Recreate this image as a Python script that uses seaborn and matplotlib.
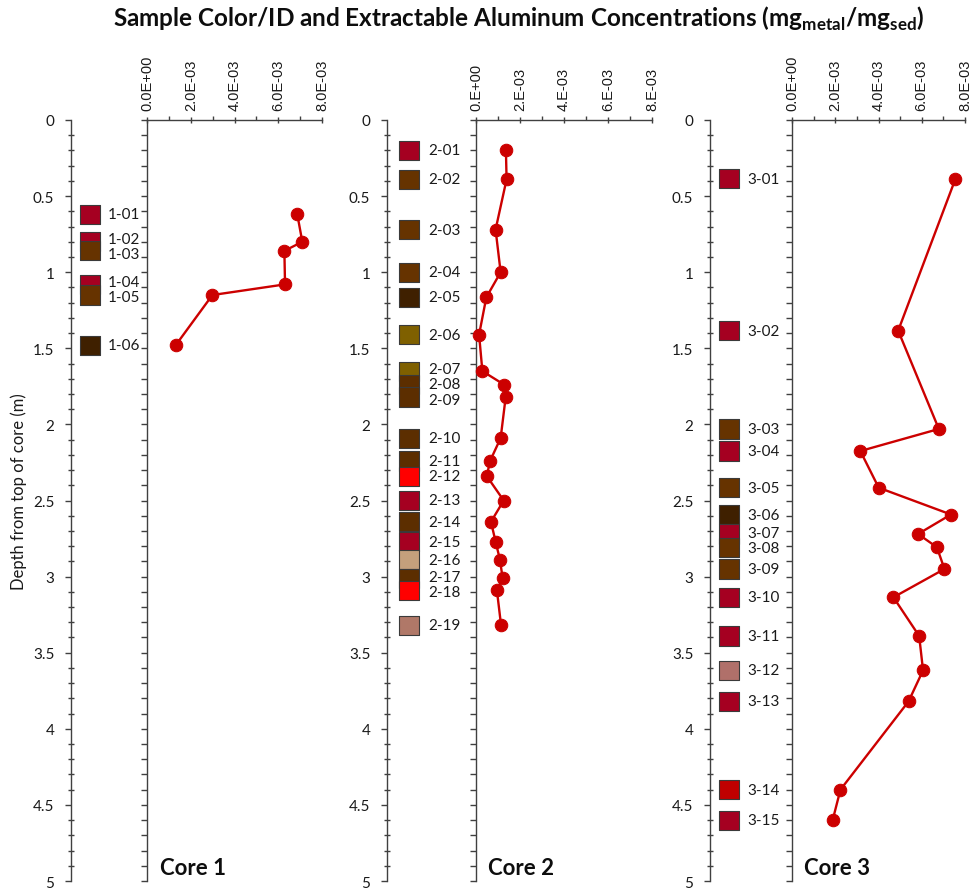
import numpy as np
import pandas as pd
import matplotlib
matplotlib.use("Agg")
import matplotlib.pyplot as plt
import seaborn as sns
from matplotlib.ticker import FixedLocator, FixedFormatter, NullFormatter

sns.set_theme(style="white")
plt.rcParams['font.family'] = ['Lato', 'DejaVu Sans']
plt.rcParams['mathtext.fontset'] = 'custom'
plt.rcParams['mathtext.rm'] = 'Lato'
plt.rcParams['mathtext.bf'] = 'Lato:bold'

# ---------------- data ----------------
core1_ids = ["1-01", "1-02", "1-03", "1-04", "1-05", "1-06"]
core1_depth = [0.62, 0.80, 0.86, 1.08, 1.15, 1.48]
core1_conc = [6.87e-3, 7.10e-3, 6.28e-3, 6.31e-3, 2.99e-3, 1.31e-3]
core1_colors = ["#A50021", "#A50021", "#663300", "#A50021", "#663300", "#3F2000"]

core2_ids = ["2-01", "2-02", "2-03", "2-04", "2-05", "2-06", "2-07", "2-08", "2-09", "2-10",
             "2-11", "2-12", "2-13", "2-14", "2-15", "2-16", "2-17", "2-18", "2-19"]
core2_depth = [0.20, 0.39, 0.72, 1.00, 1.165, 1.41, 1.65, 1.74, 1.82, 2.09,
               2.24, 2.34, 2.50, 2.64, 2.77, 2.89, 3.01, 3.09, 3.32]
core2_conc = [1.36e-3, 1.39e-3, 0.89e-3, 1.12e-3, 0.47e-3, 0.14e-3, 0.29e-3, 1.29e-3, 1.35e-3, 1.12e-3,
              0.64e-3, 0.49e-3, 1.26e-3, 0.68e-3, 0.89e-3, 1.09e-3, 1.21e-3, 0.95e-3, 1.14e-3]
core2_colors = ["#A50021", "#663300", "#663300", "#663300", "#3F2000", "#7F6000", "#7F6000", "#5C2E00",
                "#5C2E00", "#5C2E00", "#5C2E00", "#FF0000", "#A50021", "#5C2E00", "#A50021", "#C4A07C",
                "#5C2E00", "#FF0000", "#B07868"]

core3_ids = ["3-01", "3-02", "3-03", "3-04", "3-05", "3-06", "3-07", "3-08", "3-09", "3-10",
             "3-11", "3-12", "3-13", "3-14", "3-15"]
core3_depth = [0.386, 1.384, 2.03, 2.175, 2.416, 2.592, 2.72, 2.807, 2.95, 3.136,
               3.39, 3.616, 3.82, 4.40, 4.60]
core3_conc = [7.56e-3, 4.91e-3, 6.79e-3, 3.16e-3, 4.01e-3, 7.35e-3, 5.83e-3, 6.70e-3, 7.05e-3, 4.69e-3,
              5.88e-3, 6.06e-3, 5.39e-3, 2.24e-3, 1.88e-3]
core3_colors = ["#A50021", "#A50021", "#663300", "#A50021", "#663300", "#3F2000", "#A50021", "#663300",
                "#663300", "#A50021", "#A50021", "#B0706A", "#A50021", "#C00000", "#A50021"]

core_names = ["Core 1", "Core 2", "Core 3"]
conc_ticks = [0.0, 0.002, 0.004, 0.006, 0.008]
conc_minor_ticks = [0.001, 0.003, 0.005, 0.007]
conc_labels_full = ["0.0E+00", "2.0E-03", "4.0E-03", "6.0E-03", "8.0E-03"]
conc_labels_short = ["0.E+00", "2.E-03", "4.E-03", "6.E-03", "8.E-03"]
depth_ticks = [0, 0.5, 1, 1.5, 2, 2.5, 3, 3.5, 4, 4.5, 5]
depth_labels = ["0", "0.5", "1", "1.5", "2", "2.5", "3", "3.5", "4", "4.5", "5"]
depth_minor = [round(v * 0.1, 1) for v in range(0, 51)]

title = r"Sample Color/ID and Extractable Aluminum Concentrations (mg$_{\mathbf{metal}}$/mg$_{\mathbf{sed}}$)"
ylabel = "Depth from top of core (m)"

cores = [
    (core1_ids, core1_depth, core1_conc, core1_colors, conc_labels_full),
    (core2_ids, core2_depth, core2_conc, core2_colors, conc_labels_short),
    (core3_ids, core3_depth, core3_conc, core3_colors, conc_labels_full),
]

# ---------------- layout (pixels) ----------------
W, H = 976, 895
Y0, Y5 = 121, 882
layout = [  # depth-axis x, conc-axis x, conc-axis end, square offset, label offset
    (71, 147, 322, 19, 37),
    (387, 476, 652, 22, 41),
    (710, 792, 965, 19, 37),
]
AX = "#404040"
LINE = "#CC0000"
MIN_GAP = 0.1  # minimum label spacing (m) so the IDs do not collide


def spread(values, gap):
    pos = list(values)
    for _ in range(50):
        moved = False
        for k in range(len(pos) - 1):
            d = pos[k + 1] - pos[k]
            if d < gap - 1e-6:
                shift = (gap - d) / 2
                pos[k] -= shift
                pos[k + 1] += shift
                moved = True
        if not moved:
            break
    return pos


fig = plt.figure(figsize=(W / 100, H / 100), dpi=100)


def rect(x0, x1):
    return [x0 / W, 1 - Y5 / H, (x1 - x0) / W, (Y5 - Y0) / H]


for i, ((ids, depth, conc, colors, clabels), (xd, xc, xe, sq, lb)) in enumerate(zip(cores, layout)):
    # --- depth axis with colour squares and IDs ---
    axd = fig.add_axes(rect(xd, xc))
    axd.set_xlim(0, xc - xd)
    axd.set_ylim(5, 0)
    df = pd.DataFrame({"x": [sq] * len(ids), "depth": depth, "id": ids})
    sns.scatterplot(data=df, x="x", y="depth", hue="id", palette=dict(zip(ids, colors)),
                    marker="s", s=190, edgecolor="#3A3A3A", linewidth=0.8, legend=False,
                    ax=axd, clip_on=False, zorder=3)
    for sid, d in zip(ids, spread(depth, MIN_GAP)):
        axd.text(lb, d, sid, ha="left", va="center", fontsize=11, color="#1A1A1A")
    for s in ["top", "right", "bottom"]:
        axd.spines[s].set_visible(False)
    axd.spines["left"].set_color(AX)
    axd.spines["left"].set_linewidth(1.0)
    axd.set_xticks([])
    axd.yaxis.set_major_locator(FixedLocator(depth_ticks))
    axd.yaxis.set_major_formatter(FixedFormatter(depth_labels))
    axd.yaxis.set_minor_locator(FixedLocator(depth_minor))
    axd.tick_params(axis="y", which="major", direction="out", length=4, width=1, color=AX,
                    left=True, labelsize=11, labelcolor="#1A1A1A", pad=8)
    axd.tick_params(axis="y", which="minor", direction="inout", length=4, width=1, color=AX, left=True)
    axd.set_xlabel("")
    if i == 0:
        axd.set_ylabel(ylabel, fontsize=12, color="#1A1A1A")
        axd.yaxis.set_label_coords(-0.58, 0.513)
    else:
        axd.set_ylabel("")
    axd.set_facecolor("none")

    # --- concentration profile ---
    axc = fig.add_axes(rect(xc, xe))
    axc.set_xlim(0, 0.008)
    axc.set_ylim(5, 0)
    sns.lineplot(x=conc, y=depth, sort=False, estimator=None, ax=axc, color=LINE,
                 linewidth=1.7, marker="o", markersize=9, markeredgecolor=LINE,
                 clip_on=False, zorder=4)
    for s in ["right", "bottom"]:
        axc.spines[s].set_visible(False)
    for s in ["left", "top"]:
        axc.spines[s].set_color(AX)
        axc.spines[s].set_linewidth(1.0)
    axc.xaxis.tick_top()
    axc.xaxis.set_major_locator(FixedLocator(conc_ticks))
    axc.xaxis.set_major_formatter(FixedFormatter(clabels))
    axc.xaxis.set_minor_locator(FixedLocator(conc_minor_ticks))
    axc.tick_params(axis="x", which="major", direction="inout", length=5, width=1, color=AX,
                    top=True, bottom=False, labelsize=10.5, labelcolor="#1A1A1A", pad=5,
                    labelrotation=90)
    axc.tick_params(axis="x", which="minor", direction="out", length=3, width=1, color=AX,
                    top=True, bottom=False)
    for lab in axc.get_xticklabels():
        lab.set_family(["Liberation Sans"])
    axc.yaxis.set_major_locator(FixedLocator(depth_minor))
    axc.yaxis.set_major_formatter(NullFormatter())
    axc.tick_params(axis="y", which="major", direction="out", length=4, width=1, color=AX, left=True)
    axc.set_xlabel("")
    axc.set_ylabel("")
    axc.set_facecolor("none")
    axc.annotate(core_names[i], xy=(0, 5), xycoords="data", xytext=(9, 5),
                 textcoords="offset points", fontsize=16, fontweight="bold",
                 ha="left", va="baseline", color="#0D0D0D")

fig.text(519 / W, 1 - 19 / H, title, ha="center", va="center", fontsize=17.5,
         fontweight="bold", color="#0D0D0D")

fig.savefig("out.png", dpi=100, facecolor="white")
